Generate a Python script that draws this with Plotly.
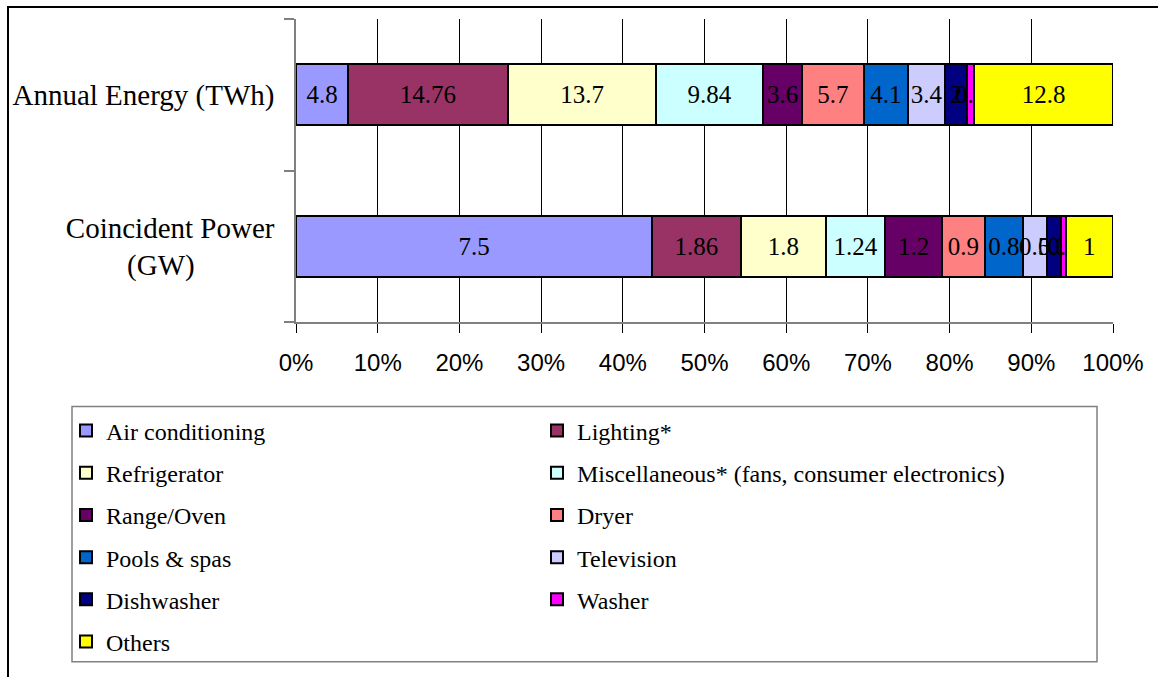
import plotly.graph_objects as go

categories = ["Annual Energy (TWh)", "Coincident Power (GW)"]
category_labels = ["Annual Energy (TWh)", "Coincident Power<br>(GW)" + "&#160;" * 11]

end_uses = ["Air conditioning", "Lighting*", "Refrigerator",
            "Miscellaneous* (fans, consumer electronics)", "Range/Oven", "Dryer",
            "Pools & spas", "Television", "Dishwasher", "Washer", "Others"]

energy_twh = [4.8, 14.76, 13.7, 9.84, 3.6, 5.7, 4.1, 3.4, 2, 0.7, 12.8]
power_gw = [7.5, 1.86, 1.8, 1.24, 1.2, 0.9, 0.8, 0.5, 0.3, 0.1, 1]

colors = ["#9999FF", "#993366", "#FFFFCC", "#CCFFFF", "#660066", "#FF8080",
          "#0066CC", "#CCCCFF", "#000080", "#FF00FF", "#FFFF00"]

x_ticks = [0, 10, 20, 30, 40, 50, 60, 70, 80, 90, 100]
x_tick_labels = [f"{v}%" for v in x_ticks]

SERIF = "Liberation Serif, Times New Roman, serif"
SANS = "Liberation Sans, Arial, sans-serif"

fig = go.Figure()
for i, (name, e, p, c) in enumerate(zip(end_uses, energy_twh, power_gw, colors)):
    fig.add_trace(go.Bar(
        name=name,
        y=categories,
        x=[e, p],
        orientation="h",
        text=[e, p],
        texttemplate="%{text}",
        textposition="inside",
        insidetextanchor="middle",
        textangle=0,
        textfont=dict(family=SERIF, size=25, color="black"),
        marker=dict(color=c, line=dict(color="black", width=2)),
        legend="legend" if i % 2 == 0 else "legend2",
        legendgroup=name,
        hoverinfo="name+x",
    ))

W, H = 1158, 677
ml, mr, mt, mb = 296, 45, 19, 353
pw = W - ml - mr
ph = H - mt - mb

def px_x(p):
    return (p - ml) / pw

def px_y(p):
    return (H - mb - p) / ph

legend_common = dict(
    orientation="v",
    yanchor="top", xanchor="left",
    font=dict(family=SERIF, size=24, color="black"),
    bgcolor="rgba(0,0,0,0)", borderwidth=0,
    tracegroupgap=8,
    itemclick=False, itemdoubleclick=False,
)

fig.update_layout(
    width=W, height=H,
    margin=dict(l=ml, r=mr, t=mt, b=mb, pad=0),
    barmode="stack",
    barnorm="percent",
    bargap=0.6,
    paper_bgcolor="white",
    plot_bgcolor="white",
    uniformtext=dict(minsize=25, mode="show"),
    showlegend=True,
    legend=dict(x=px_x(66), y=px_y(411), **legend_common),
    legend2=dict(x=px_x(537), y=px_y(411), **legend_common),
    xaxis=dict(
        range=[0, 100],
        tickvals=x_ticks,
        ticktext=x_tick_labels,
        showgrid=True, gridcolor="black", gridwidth=1,
        showline=True, linecolor="#808080", linewidth=1.5,
        ticks="outside", ticklen=9, tickcolor="black", tickwidth=1,
        ticklabelstandoff=9,
        tickfont=dict(family=SANS, size=24, color="black"),
        zeroline=False,
        fixedrange=True,
    ),
    yaxis=dict(
        tickvals=categories,
        ticktext=category_labels,
        autorange="reversed",
        tickson="boundaries",
        showline=True, linecolor="#808080", linewidth=1.5,
        ticks="outside", ticklen=10, tickcolor="#808080", tickwidth=1.5,
        ticklabelstandoff=14,
        tickfont=dict(family=SERIF, size=29, color="black"),
        showgrid=False,
        fixedrange=True,
    ),
    shapes=[
        dict(type="rect", xref="paper", yref="paper",
             x0=px_x(8), x1=px_x(1175), y0=px_y(7), y1=px_y(700),
             line=dict(color="black", width=2), layer="below"),
        dict(type="rect", xref="paper", yref="paper",
             x0=px_x(72), x1=px_x(1097), y0=px_y(409), y1=px_y(666),
             line=dict(color="#808080", width=1.5), layer="below"),
    ],
)

fig.write_html("out.html")
